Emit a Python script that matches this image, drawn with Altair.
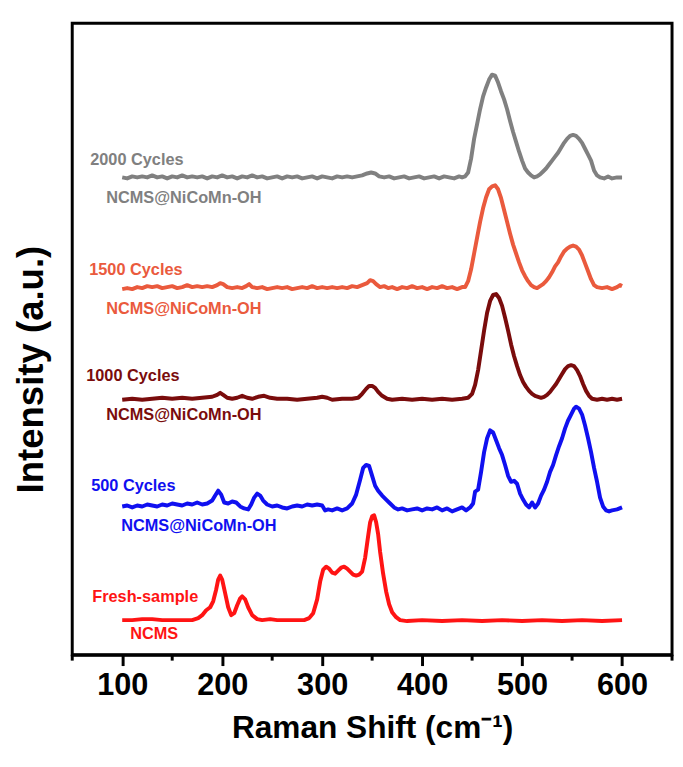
import altair as alt
import pandas as pd

# ---- data (Raman shift cm-1, relative intensity above each trace's baseline) ----
FRESH = [(100,1),(110,1),(120,2),(130,2),(140,1),(150,1),(160,1),(170,1),(176,3),(180,6),(184,11),(188,14),(191,20),(194,32),(196,42),(198,46),(200,42),(203,28),(206,14),(209,6),(212,8),(215,16),(218,23),(220,25),(223,22),(226,14),(230,6),(235,2),(240,1),(248,2),(255,1),(265,1),(275,1),(282,1),(287,3),(291,8),(295,22),(298,40),(301,52),(304,55),(307,53),(310,49),(313,48),(316,51),(319,54),(322,55),(325,53),(328,50),(331,47),(334,46),(337,47),(340,50),(343,64),(346,86),(348,100),(350,106),(352,107),(354,100),(356,88),(358,70),(361,48),(364,30),(367,17),(370,9),(374,4),(378,1),(385,0),(400,1),(420,0),(440,1),(460,0),(480,1),(500,0),(520,1),(540,0),(560,1),(580,0),(600,1)]

C500 = [(100,3),(105,4),(110,2),(115,4),(120,3),(125,5),(130,4),(135,3),(140,5),(145,4),(150,6),(155,5),(160,4),(165,6),(170,5),(175,7),(180,5),(185,6),(190,9),(193,14),(196,19),(199,15),(202,7),(206,6),(210,8),(214,7),(218,3),(222,1),(226,0),(229,5),(232,12),(235,16),(238,14),(241,9),(245,5),(250,3),(255,4),(260,2),(265,1),(270,3),(275,4),(280,3),(285,5),(290,4),(295,5),(300,4),(303,-1),(306,0),(310,-1),(315,1),(320,-1),(325,1),(330,6),(334,15),(338,30),(341,42),(344,45),(347,44),(350,34),(353,24),(356,19),(360,14),(364,10),(368,6),(372,2),(376,0),(380,1),(385,-1),(390,0),(395,1),(400,-1),(405,1),(410,0),(415,2),(420,-1),(425,1),(430,-2),(435,0),(440,2),(444,-1),(448,2),(451,6),(453,18),(456,20),(459,38),(462,58),(465,72),(468,80),(471,78),(474,70),(477,62),(480,55),(483,45),(486,34),(489,28),(492,29),(495,26),(498,16),(501,10),(504,5),(507,2),(510,7),(513,2),(516,6),(519,14),(522,20),(525,28),(528,38),(531,45),(534,55),(537,64),(540,72),(543,82),(546,90),(549,96),(552,102),(554,104),(557,102),(560,96),(563,85),(566,72),(569,58),(572,42),(575,28),(578,12),(581,3),(584,-1),(587,-2),(590,-1),(595,0),(600,2)]

C1000 = [(100,0),(110,1),(120,0),(130,1),(140,2),(150,1),(160,2),(170,1),(180,2),(190,3),(195,5),(198,7),(201,5),(205,2),(210,1),(215,2),(220,4),(225,2),(230,1),(236,3),(242,4),(248,2),(255,1),(265,1),(275,0),(285,1),(295,2),(300,3),(305,2),(310,0),(320,1),(330,1),(336,2),(340,6),(344,11),(347,14),(350,14),(353,12),(356,8),(360,4),(365,1),(370,0),(380,1),(390,0),(400,1),(410,0),(420,1),(430,0),(440,1),(446,2),(450,6),(453,15),(456,30),(459,50),(462,70),(465,88),(468,100),(471,106),(474,107),(477,103),(480,95),(483,83),(486,70),(489,56),(492,44),(495,34),(498,25),(501,18),(504,13),(507,9),(510,6),(513,4),(516,3),(519,2),(522,3),(525,5),(528,8),(531,12),(534,16),(537,21),(540,26),(543,31),(546,34),(549,35),(552,34),(555,30),(558,24),(561,16),(564,9),(567,4),(570,1),(575,0),(580,1),(585,0),(590,1),(595,0),(600,1)]

C1500 = [(100,0),(105,1),(110,0),(115,2),(120,1),(125,3),(130,2),(135,3),(140,1),(145,2),(150,3),(155,1),(160,2),(165,4),(170,2),(175,3),(180,2),(185,3),(190,2),(195,4),(198,6),(201,5),(205,2),(210,1),(215,2),(220,1),(224,3),(227,5),(230,2),(235,1),(240,2),(245,0),(250,1),(255,2),(260,1),(265,2),(270,0),(275,1),(280,2),(285,1),(290,3),(295,1),(300,2),(305,1),(310,2),(315,1),(320,2),(325,1),(330,3),(335,2),(340,4),(345,6),(348,9),(351,8),(354,5),(358,2),(362,3),(366,1),(370,2),(375,0),(380,2),(385,1),(390,3),(395,1),(400,2),(405,0),(410,2),(415,1),(420,3),(425,1),(430,2),(435,0),(440,2),(443,2),(446,8),(449,20),(452,36),(455,52),(458,68),(461,82),(464,93),(467,101),(470,104),(473,105),(476,101),(479,92),(482,80),(485,68),(488,56),(491,45),(494,36),(497,27),(500,19),(503,13),(506,8),(509,4),(512,2),(515,1),(518,3),(521,5),(524,8),(527,12),(530,17),(533,23),(536,27),(539,33),(542,38),(545,41),(548,43),(551,44),(554,43),(557,40),(560,34),(563,26),(566,18),(569,10),(572,4),(575,2),(580,1),(585,2),(590,0),(595,2),(598,4),(600,3)]

C2000 = [(100,1),(105,0),(110,2),(115,1),(120,2),(125,1),(130,3),(135,1),(140,2),(145,0),(150,2),(155,1),(160,3),(165,1),(170,2),(175,1),(180,2),(185,0),(190,2),(195,1),(200,3),(205,1),(210,2),(215,0),(220,2),(225,1),(230,3),(235,1),(240,2),(245,0),(250,1),(255,2),(260,0),(265,2),(270,1),(275,2),(280,0),(285,1),(290,2),(295,0),(300,2),(305,1),(310,0),(315,2),(320,1),(325,2),(330,1),(335,2),(340,3),(345,5),(349,6),(353,5),(357,2),(362,1),(367,2),(372,0),(377,1),(382,2),(387,0),(392,1),(397,2),(402,0),(407,1),(412,2),(417,0),(422,2),(427,1),(432,0),(437,2),(440,1),(443,2),(446,6),(449,20),(452,40),(455,55),(458,70),(461,83),(464,92),(467,100),(470,105),(473,104),(476,97),(479,88),(482,80),(485,70),(488,58),(491,47),(494,37),(497,27),(500,18),(503,10),(506,6),(509,3),(512,1),(515,2),(518,4),(521,7),(524,10),(527,14),(530,18),(533,22),(536,26),(539,31),(542,36),(545,40),(548,43),(551,44),(554,43),(557,40),(560,36),(563,30),(566,24),(569,18),(572,8),(575,3),(578,1),(582,0),(586,2),(590,0),(595,1),(600,1)]

SERIES = ["Fresh", "500", "1000", "1500", "2000"]
SERIES_DATA = [FRESH, C500, C1000, C1500, C2000]
OFFSETS = [34, 147, 258, 370, 482]
COLORS = ["#FF1414", "#1010F0", "#7A0C0C", "#EA5A3D", "#808080"]

LABEL_TEXT = ["2000 Cycles", "NCMS@NiCoMn-OH", "1500 Cycles", "NCMS@NiCoMn-OH",
              "1000 Cycles", "NCMS@NiCoMn-OH", "500 Cycles", "NCMS@NiCoMn-OH",
              "Fresh-sample", "NCMS"]
LABEL_X = [68, 84, 67, 84, 64, 84, 69, 99, 70, 108]
LABEL_Y = [501, 462, 389, 350, 282, 242, 171, 130, 58, 21]
LABEL_SERIES = ["2000", "2000", "1500", "1500", "1000", "1000", "500", "500", "Fresh", "Fresh"]

MAJOR_TICKS = [100, 200, 300, 400, 500, 600]
MINOR_TICKS = [50, 150, 250, 350, 450, 550, 650]
X_DOMAIN = [50, 650]
Y_DOMAIN = [0, 639]

XTITLE = "Raman Shift (cm\u207b\u00b9)"
FONT = "Liberation Sans"

rows = []
for name, pts, off in zip(SERIES, SERIES_DATA, OFFSETS):
    for i, (x, y) in enumerate(pts):
        rows.append({"series": name, "x": x, "y": y + off, "i": i})
df = pd.DataFrame(rows)

color_map = dict(zip(SERIES, COLORS))
lab = pd.DataFrame({"text": LABEL_TEXT, "x": LABEL_X, "y": LABEL_Y,
                    "color": [color_map[s] for s in LABEL_SERIES]})
minor = pd.DataFrame({"x": MINOR_TICKS})

W, H = 607, 639

xscale = alt.Scale(domain=X_DOMAIN, nice=False, zero=False)
yscale = alt.Scale(domain=Y_DOMAIN, nice=False, zero=False)

xaxis = alt.Axis(values=MAJOR_TICKS, grid=False, domainColor="black", domainWidth=3,
                 tickColor="black", tickWidth=3, tickSize=11, labelFont=FONT,
                 labelFontSize=31, labelFontWeight="bold", labelColor="black",
                 labelPadding=5, titleFont=FONT, titleFontSize=32, titleFontWeight="bold",
                 titleColor="black", titlePadding=13)
yaxis = alt.Axis(labels=False, ticks=False, domain=False, grid=False,
                 titleFont=FONT, titleFontSize=37, titleFontWeight="bold", titleColor="black",
                 titleAngle=270, titleAlign="center", titleBaseline="middle",
                 titleX=-41, titleY=350)

lines = alt.Chart(df).mark_line(strokeWidth=4, strokeJoin="round").encode(
    x=alt.X("x:Q", scale=xscale, axis=xaxis, title=XTITLE),
    y=alt.Y("y:Q", scale=yscale, axis=yaxis, title="Intensity (a.u.)"),
    color=alt.Color("series:N", scale=alt.Scale(domain=SERIES, range=COLORS), legend=None),
    order="i:Q",
)

labels = alt.Chart(lab).mark_text(align="left", baseline="middle", font=FONT,
                                  fontSize=16.5, fontWeight="bold").encode(
    x=alt.X("x:Q", scale=xscale, title=XTITLE),
    y=alt.Y("y:Q", scale=yscale, title="Intensity (a.u.)"),
    text="text:N",
    color=alt.Color("color:N", scale=None),
)

minor_ticks = alt.Chart(minor).mark_rule(color="black", strokeWidth=3).encode(
    x=alt.X("x:Q", scale=xscale, title=XTITLE),
    y=alt.value(H),
    y2=alt.value(H + 6),
)

chart = alt.layer(lines, labels, minor_ticks).properties(
    width=W, height=H,
    padding={"left": 5, "top": 11, "right": 1, "bottom": 1},
).configure_view(stroke="black", strokeWidth=3)

chart.save("out.html", embed_options={"renderer": "svg", "actions": False})
